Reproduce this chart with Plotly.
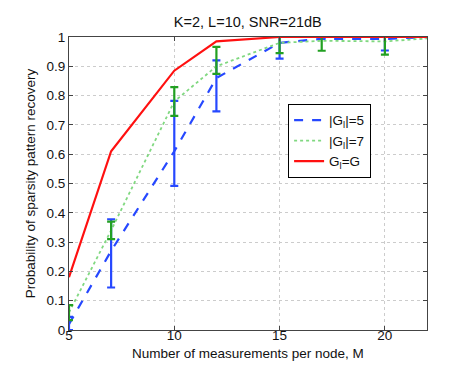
import plotly.graph_objects as go

M = [5, 7, 10, 12, 15, 17, 20, 22]
p_g5 = [0.02, 0.27, 0.61, 0.86, 0.98, 0.994, 0.993, 1.0]
p_g5_hi = [0.045, 0.378, 0.782, 0.92, 1.0, 1.0, 1.0, 1.0]
p_g5_lo = [0.0, 0.145, 0.492, 0.746, 0.926, 0.994, 0.954, 1.0]
p_g7 = [0.06, 0.34, 0.78, 0.90, 0.98, 0.987, 0.985, 0.995]
p_g7_hi = [0.085, 0.37, 0.829, 0.966, 1.0, 1.0, 1.0, 0.995]
p_g7_lo = [0.034, 0.31, 0.731, 0.874, 0.945, 0.953, 0.94, 0.995]
p_full = [0.18, 0.61, 0.885, 0.985, 1.0, 1.0, 1.0, 1.0]

x_ticks = [5, 10, 15, 20]
y_ticks = [0, 0.1, 0.2, 0.3, 0.4, 0.5, 0.6, 0.7, 0.8, 0.9, 1]

BLUE = "#2648ff"
GREEN_LINE = "#80d880"
GREEN_BAR = "#22a022"
RED = "#ff1010"

def err(mean, hi, lo):
    return [h - m for m, h in zip(mean, hi)], [m - l for m, l in zip(mean, lo)]

fig = go.Figure()

up5, dn5 = err(p_g5, p_g5_hi, p_g5_lo)
up7, dn7 = err(p_g7, p_g7_hi, p_g7_lo)

fig.add_trace(go.Scatter(x=M, y=p_g5, mode="lines", name="|G<sub>l</sub>|=5",
                         line=dict(color=BLUE, width=2.2, dash="dash")))
fig.add_trace(go.Scatter(x=M[:-1], y=p_g5[:-1], mode="markers", showlegend=False,
                         marker=dict(size=1, color="rgba(0,0,0,0)"),
                         error_y=dict(type="data", array=up5[:-1], arrayminus=dn5[:-1],
                                      color=BLUE, thickness=2.2, width=4)))
fig.add_trace(go.Scatter(x=M, y=p_g7, mode="lines", name="|G<sub>l</sub>|=7",
                         line=dict(color=GREEN_LINE, width=1.8, dash="dot")))
fig.add_trace(go.Scatter(x=M[:-1], y=p_g7[:-1], mode="markers", showlegend=False,
                         marker=dict(size=1, color="rgba(0,0,0,0)"),
                         error_y=dict(type="data", array=up7[:-1], arrayminus=dn7[:-1],
                                      color=GREEN_BAR, thickness=2.2, width=4)))
fig.add_trace(go.Scatter(x=M, y=p_full, mode="lines", name="G<sub>l</sub>=G",
                         line=dict(color=RED, width=2.2)))

axis_common = dict(showline=True, linecolor="#444", linewidth=1, mirror="ticks",
                   ticks="inside", ticklen=4, tickcolor="#444",
                   showgrid=True, gridcolor="#cccccc", griddash="dot", gridwidth=1,
                   zeroline=False, tickfont=dict(size=13.5, color="#111"))

fig.update_layout(
    width=463, height=369,
    margin=dict(l=61, r=44, t=29, b=47),
    paper_bgcolor="white", plot_bgcolor="white",
    font=dict(family="Liberation Sans, Arial, sans-serif", size=13.5, color="#111"),
    title=dict(text="K=2, L=10, SNR=21dB", x=0.518, xanchor="center", y=0.962, yanchor="middle",
               font=dict(size=14.5)),
    xaxis=dict(range=[5, 22], tickvals=x_ticks, ticktext=[str(v) for v in x_ticks],
               ticklabelstandoff=-7, **axis_common),
    yaxis=dict(range=[0, 1], tickvals=y_ticks, ticktext=[("%g" % v) for v in y_ticks],
               title=dict(text="Probability of sparsity pattern recovery", standoff=7, font=dict(size=13.5)),
               **axis_common),
    legend=dict(x=0.612, y=0.772, xanchor="left", yanchor="top",
                bordercolor="black", borderwidth=1, bgcolor="white",
                font=dict(size=13.5), tracegroupgap=0, itemwidth=30),
    showlegend=True,
    annotations=[dict(text="Number of measurements per node, M", xref="paper", yref="paper",
                      x=0.5, y=-0.08, xanchor="center", yanchor="middle", showarrow=False,
                      font=dict(size=13.5))],
)

fig.write_html("out.html")
